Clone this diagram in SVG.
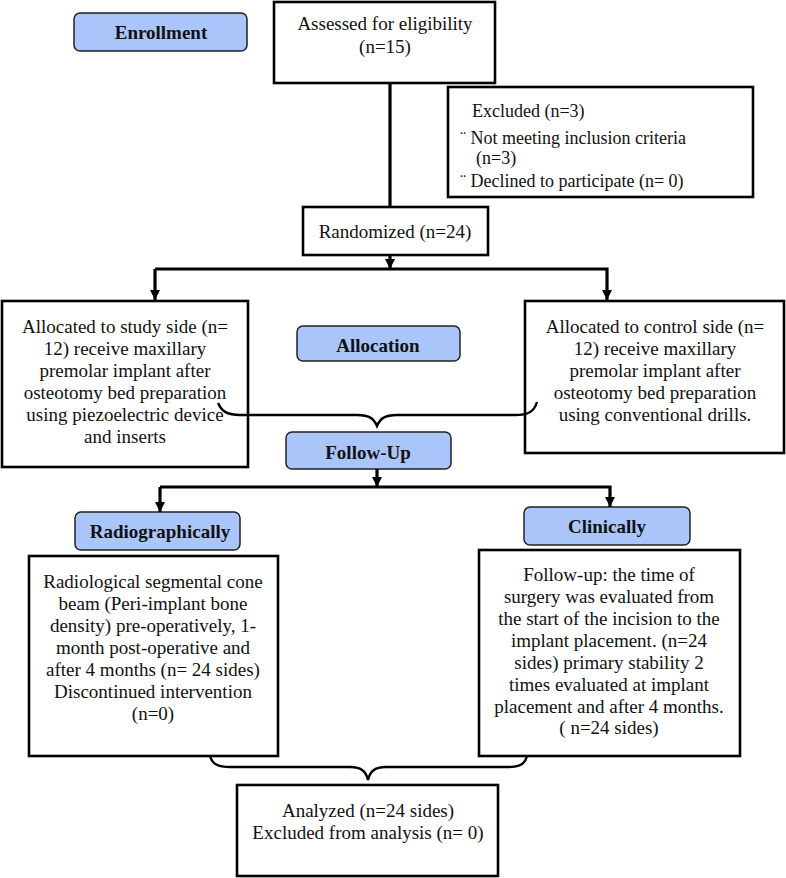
<svg xmlns="http://www.w3.org/2000/svg" width="786" height="878" viewBox="0 0 786 878">
<defs>
<style>
.box{fill:#fff;stroke:#000;stroke-width:2.6}
.lbl{fill:#a9c5fa;stroke:#222;stroke-width:1.5}
text{font-family:"Liberation Serif","Times New Roman",serif;font-size:19px;fill:#111}
.s{font-size:18px}
.c{text-anchor:middle}
.b{font-weight:bold;text-anchor:middle}
.ln{fill:none;stroke:#000;stroke-width:3.2}
.br{fill:none;stroke:#000;stroke-width:2.4}
</style>
<marker id="ah" markerUnits="userSpaceOnUse" markerWidth="10" markerHeight="10" viewBox="0 0 10 10" refX="10" refY="5" orient="auto">
<path d="M0,0 L10,5 L0,10 z" fill="#000"/>
</marker>
</defs>
<rect width="786" height="878" fill="#fff"/>

<g id="enrollment"><rect class="lbl" x="74" y="13" width="173" height="38" rx="6"/><text class="b" x="161" y="39">Enrollment</text></g>
<g id="assessed"><rect class="box" x="274" y="2" width="221" height="81"/><text class="c" x="385" y="30">Assessed for eligibility</text><text class="c" x="385" y="53">(n=15)</text></g>
<g id="excluded"><rect class="box" x="448" y="87" width="305" height="110"/>
<text class="s" x="472" y="117">Excluded (n=3)</text>
<text class="s" x="460" y="144">¨ Not meeting inclusion criteria</text>
<text class="s" x="476" y="164">(n=3)</text>
<text class="s" x="460" y="187">¨ Declined to participate (n= 0)</text></g>
<g id="randomized"><rect class="box" x="303" y="207" width="185" height="48"/><text class="c" x="395" y="238">Randomized (n=24)</text></g>
<g id="study"><rect class="box" x="2" y="301" width="246" height="166"/>
<text class="c" x="125" y="333">Allocated to study side (n=</text>
<text class="c" x="125" y="355">12) receive maxillary</text>
<text class="c" x="125" y="377">premolar implant after</text>
<text class="c" x="125" y="399">osteotomy bed preparation</text>
<text class="c" x="125" y="421">using piezoelectric device</text>
<text class="c" x="125" y="443">and inserts</text></g>
<g id="allocation"><rect class="lbl" x="297" y="326" width="163" height="35" rx="6"/><text class="b" x="378" y="352">Allocation</text></g>
<g id="control"><rect class="box" x="525" y="301" width="259" height="152"/>
<text class="c" x="655" y="333">Allocated to control side (n=</text>
<text class="c" x="655" y="355">12) receive maxillary</text>
<text class="c" x="655" y="377">premolar implant after</text>
<text class="c" x="655" y="399">osteotomy bed preparation</text>
<text class="c" x="655" y="421">using conventional drills.</text></g>
<g id="followup"><rect class="lbl" x="286" y="432" width="165" height="37" rx="6"/><text class="b" x="368" y="459">Follow-Up</text></g>
<g id="radiographically"><rect class="lbl" x="75" y="512" width="165" height="38" rx="6"/><text class="b" x="160" y="538">Radiographically</text></g>
<g id="clinically"><rect class="lbl" x="524" y="507" width="166" height="38" rx="6"/><text class="b" x="607" y="533">Clinically</text></g>
<g id="radiological"><rect class="box" x="29" y="556" width="249" height="200"/>
<text class="c" x="153" y="588">Radiological segmental cone</text>
<text class="c" x="153" y="610">beam (Peri-implant bone</text>
<text class="c" x="153" y="632">density) pre-operatively, 1-</text>
<text class="c" x="153" y="654">month post-operative and</text>
<text class="c" x="153" y="676">after 4 months (n= 24 sides)</text>
<text class="c" x="153" y="698">Discontinued intervention</text>
<text class="c" x="153" y="720">(n=0)</text></g>
<g id="clinical"><rect class="box" x="479" y="550" width="261" height="206"/>
<text class="c" x="609" y="581">Follow-up: the time of</text>
<text class="c" x="609" y="603">surgery was evaluated from</text>
<text class="c" x="609" y="625">the start of the incision to the</text>
<text class="c" x="609" y="647">implant placement. (n=24</text>
<text class="c" x="609" y="669">sides) primary stability 2</text>
<text class="c" x="609" y="691">times evaluated at implant</text>
<text class="c" x="609" y="713">placement and after 4 months.</text>
<text class="c" x="609" y="734">( n=24 sides)</text></g>
<g id="analyzed"><rect class="box" x="237" y="785" width="261" height="91"/>
<text class="c" x="368" y="817">Analyzed (n=24 sides)</text>
<text class="c" x="368" y="839">Excluded from analysis (n= 0)</text></g>

<g id="connectors">
<line class="ln" x1="390" y1="83" x2="390" y2="207"/>
<line class="ln" x1="390" y1="255" x2="390" y2="269" marker-end="url(#ah)"/>
<polyline class="ln" points="155,269 607,269 607,300" marker-end="url(#ah)"/>
<line class="ln" x1="155" y1="269" x2="155" y2="300" marker-end="url(#ah)"/>
<line class="ln" x1="377" y1="469" x2="377" y2="487" marker-end="url(#ah)"/>
<polyline class="ln" points="160,487 610,487 610,507" marker-end="url(#ah)"/>
<line class="ln" x1="160" y1="487" x2="160" y2="512" marker-end="url(#ah)"/>
<path class="br" d="M218,403 C222,412 228,415 240,415 L357,415 C370,415 374,419 377,426 C380,419 384,415 397,415 L515,415 C528,415 534,412 537,402"/>
<path class="br" d="M210,756 C212,764 218,767 230,767 L350,767 C362,767 366,772 368,780 C370,772 374,767 386,767 L508,767 C520,767 525,764 527,756"/>
</g>
</svg>
